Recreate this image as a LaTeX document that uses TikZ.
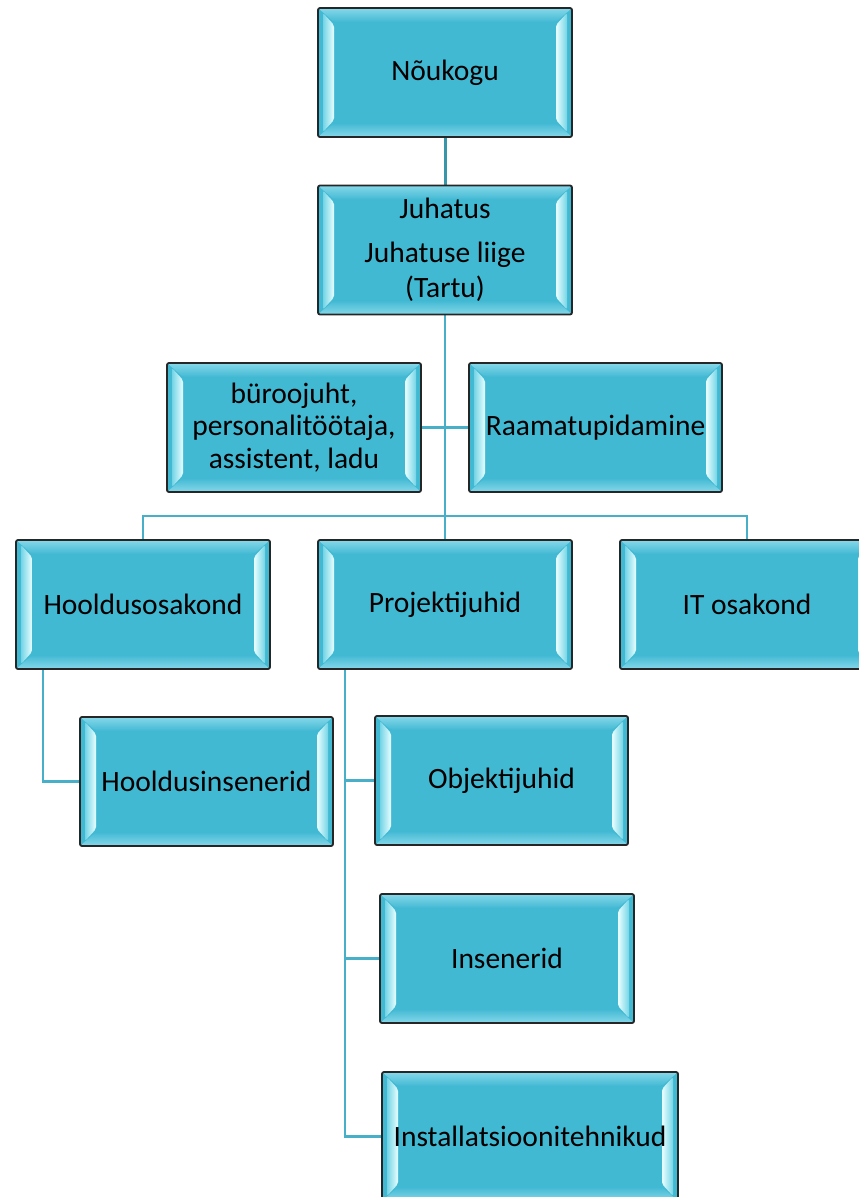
\documentclass[tikz,border=0pt]{standalone}
\usepackage{fontspec}
\setmainfont{Carlito}
\usetikzlibrary{calc,backgrounds}
\definecolor{boxfill}{HTML}{42B9D3}
\definecolor{bevlight}{HTML}{E8FFFF}
\definecolor{bevmid}{HTML}{74D4E6}
\definecolor{bandlight}{HTML}{86D8E9}
\definecolor{linecol}{HTML}{48AFC8}
\definecolor{linedark}{HTML}{3796AA}
\tikzset{
  orgbox/.style={draw=black!85, line width=1.8pt, fill=boxfill, rounded corners=2pt,
    inner sep=0pt, align=center, text=black,
    font=\fontsize{29.5}{32.5}\selectfont,
    minimum width=254pt, minimum height=129pt,
    path picture={
      \coordinate (pNW) at (path picture bounding box.north west);
      \coordinate (pNE) at (path picture bounding box.north east);
      \coordinate (pSW) at (path picture bounding box.south west);
      \coordinate (pSE) at (path picture bounding box.south east);
      \shade[top color=bandlight, bottom color=boxfill]
        (pNW) -- (pNE) -- ($(pNE)+(-16pt,-14pt)$) -- ($(pNW)+(16pt,-14pt)$) -- cycle;
      \shade[top color=boxfill, bottom color=bandlight]
        (pSW) -- (pSE) -- ($(pSE)+(-16pt,14pt)$) -- ($(pSW)+(16pt,14pt)$) -- cycle;
      \shade[left color=bevmid, right color=bevlight]
        ($(pNW)+(5pt,-5pt)$) -- ($(pNW)+(16pt,-17pt)$) -- ($(pSW)+(16pt,17pt)$) -- ($(pSW)+(5pt,5pt)$) -- cycle;
      \shade[left color=bevlight, right color=bevmid]
        ($(pNE)+(-5pt,-5pt)$) -- ($(pNE)+(-16pt,-17pt)$) -- ($(pSE)+(-16pt,17pt)$) -- ($(pSE)+(-5pt,5pt)$) -- cycle;
    }},
  conn/.style={draw=linecol, line width=2.6pt},
  conndark/.style={draw=linedark, line width=3pt}
}
\begin{document}
\begin{tikzpicture}[x=1pt,y=-1pt]
\useasboundingbox (0,0) rectangle (859,1197);
\clip (0,0) rectangle (859,1197);

\node[orgbox] (nou) at (445,72.5) {Nõukogu};
\node[orgbox] (juh) at (445,250) {Juhatus\\[11pt]Juhatuse liige\\[3pt](Tartu)};
\node[orgbox] (buro) at (294,427.5) {büroojuht,\\personalitöötaja,\\assistent, ladu};
\node[orgbox, minimum width=253pt] (raam) at (595.5,427.5) {Raamatupidamine};
\node[orgbox] (hool) at (143,604.5) {Hooldusosakond};
\node[orgbox] (proj) at (445,604.5) {Projektijuhid};
\node[orgbox] (it) at (747,604.5) {IT osakond};
\node[orgbox, minimum width=253pt] (hins) at (206.5,781.5) {Hooldusinsenerid};
\node[orgbox, minimum width=253pt] (obj) at (501.5,780.5) {Objektijuhid};
\node[orgbox] (ins) at (507,958.5) {Insenerid};
\node[orgbox, minimum width=296pt] (inst) at (530,1136.5) {Installatsioonitehnikud};

\coordinate (busy) at (0,516);
\coordinate (hx) at (43,0);
\coordinate (px) at (345,0);

\begin{scope}[on background layer]
\fill[white] (0,0) rectangle (859,1197);
\draw[conndark] (nou.south) -- (juh.north);
\draw[conn] (juh.south) -- (proj.north);
\draw[conn] (buro.east) -- (raam.west);
\draw[conn] (hool.north) -- (hool.north |- busy) -- (it.north |- busy) -- (it.north);
\draw[conn] (hool.south -| hx) |- (hins.west);
\draw[conn] (proj.south -| px) |- (inst.west);
\draw[conn] (px |- obj.west) -- (obj.west);
\draw[conn] (px |- ins.west) -- (ins.west);
\end{scope}
\end{tikzpicture}
\end{document}
